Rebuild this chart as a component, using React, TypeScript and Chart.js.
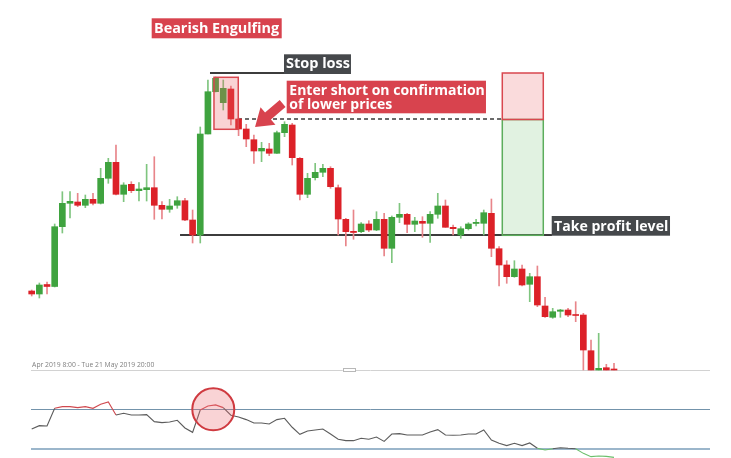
import React, { useEffect, useRef } from 'react';
import { Chart, registerables } from 'chart.js';

Chart.register(...registerables);

// ---- price candles (arbitrary price units) ----
const opens = [
  109, 106, 115.5, 113.5, 173.3, 196.7, 198, 194.7, 200.7, 196.7,
  221.7, 237.7, 205.7, 215.7, 209.3, 210.3, 212.3, 194.7, 190.7, 194.7,
  199.3, 180, 165, 266, 308.3, 297.3, 311, 281, 271, 260.3,
  249, 251, 246.7, 267.3, 275, 241.7, 205.7, 222.3, 227.7, 231.7,
  212.3, 180.7, 168.7, 168.3, 176, 170, 180.7, 151.7, 182.7, 185.7,
  175.7, 178.7, 176.7, 185.7, 194, 172.7, 165, 171.3, 176.5, 176.7,
  186.7, 151.3, 135, 123.3, 131, 115.7, 123.3, 94, 82.7, 88.7,
  90, 85.5, 85, 49.3, 30, 32.3, 31,
];
const highs = [
  110, 117, 118, 176, 208.3, 208.3, 206.7, 205, 206.7, 231.7,
  241.7, 255, 217.3, 218.3, 217.3, 235.7, 243.3, 198.3, 200.7, 203.3,
  201.7, 190, 273, 320, 323, 320, 314, 282, 275.7, 265,
  257.7, 256.7, 269, 278.3, 276.7, 242.3, 226.7, 236.7, 235.7, 233.3,
  215, 181.7, 190, 177.3, 179.3, 188.3, 186.7, 184, 196.7, 186.7,
  182.7, 183.3, 188.3, 206.7, 200, 175, 173.3, 177.3, 180.7, 190,
  201, 153.3, 139.3, 139.3, 135, 126.7, 134, 102.7, 91.7, 90.7,
  91.7, 98.3, 86.7, 60, 66.7, 35.7, 36.7,
];
const lows = [
  104, 102, 106, 113, 167, 182, 193.3, 192.3, 195, 196,
  216.7, 205, 198.3, 207.3, 199, 199, 180.7, 181, 187.7, 191.7,
  179.3, 157, 157, 266, 308, 290, 275, 264.3, 253.3, 236.7,
  238.3, 244.3, 246.7, 263.3, 235, 200, 202.3, 220, 223.3, 211.7,
  165, 154, 160.7, 167.3, 168.3, 169.3, 144, 137.3, 177.3, 167.3,
  168.3, 162.7, 157.7, 181.7, 172.7, 165, 161.7, 170, 174, 165,
  143.3, 114, 116.7, 122.7, 114, 98.3, 93.3, 82.7, 81.7, 82.7,
  83.3, 78.3, 30, 30, 30, 30, 30,
];
const closes = [
  106, 115, 113.5, 173.3, 196.7, 198.7, 194.7, 200.7, 196.7, 221.7,
  237.7, 205.7, 215, 209.3, 211, 212.3, 194.7, 190.7, 194, 199.3,
  180, 165, 266, 308.3, 321.7, 311.7, 281, 271, 261, 249,
  251.7, 246.7, 267.3, 275.7, 242.3, 205.7, 221.7, 227.7, 231.7, 213.3,
  181, 168.3, 167.5, 176, 170, 180.7, 151.7, 182.7, 185.7, 175.7,
  179, 176.7, 185.7, 194, 172.7, 171.3, 171.3, 176, 177.7, 187.3,
  151.7, 135, 123.3, 131, 115, 123.3, 95, 83.3, 88.3, 90,
  85, 84.5, 50, 30, 31.7, 30, 30,
];

// ---- RSI oscillator (one value per candle) ----
const rsiValues = [
  50.2, 53.5, 53.2, 71.0, 72.7, 72.7, 71.7, 72.7, 71.0, 75.0,
  77.4, 64.3, 66.0, 64.3, 64.3, 64.6, 57.6, 56.6, 57.2, 58.9,
  51.2, 46.8, 69.3, 73.4, 74.4, 71.7, 64.0, 62.3, 59.6, 56.2,
  56.2, 55.2, 59.6, 60.9, 51.9, 44.8, 48.2, 49.2, 50.2, 45.1,
  39.8, 38.4, 38.4, 40.8, 39.8, 42.1, 37.7, 45.1, 45.5, 44.1,
  44.1, 44.1, 47.1, 49.5, 44.1, 43.8, 44.1, 45.1, 45.1, 49.2,
  39.1, 35.7, 33.4, 35.7, 33.4, 36.1, 30.7, 29.0, 30.3, 31.3,
  30.7, 30.3, 25.6, 22.3, 22.9, 22.6, 21.6,
];
const rsiUpper = 70;
const rsiLower = 30;

// ---- trade levels and texts ----
const stopLevel = 327;
const entryLevel = 280.5;
const targetLevel = 164.7;
const dateRangeLabel = 'Apr 2019 8:00 - Tue 21 May 2019 20:00';
const engulfingText = 'Bearish Engulfing';
const stopText = 'Stop loss';
const entryTexts = ['Enter short on confirmation', 'of lower prices'];
const targetText = 'Take profit level';

const GREEN = '#3fa33f';
const RED = '#dc2128';
const GREEN_WICK = '#7fc57f';
const RED_WICK = '#e8858a';
const LABEL_RED = '#d8434e';
const LABEL_DARK = '#45484b';
const FONT = '"Open Sans", "DejaVu Sans", sans-serif';

const idx = opens.map((_, i) => i);

function hline(ctx: CanvasRenderingContext2D, x0: number, x1: number, y: number, color: string, w: number, dash: number[] = []) {
  ctx.save();
  ctx.strokeStyle = color;
  ctx.lineWidth = w;
  ctx.setLineDash(dash);
  const yy = w % 2 === 1 ? Math.round(y) + 0.5 : Math.round(y);
  ctx.beginPath();
  ctx.moveTo(x0, yy);
  ctx.lineTo(x1, yy);
  ctx.stroke();
  ctx.restore();
}

function fitSize(ctx: CanvasRenderingContext2D, text: string, width: number) {
  ctx.font = `700 20px ${FONT}`;
  const w = ctx.measureText(text).width;
  return (20 * width) / w;
}

const annotations = {
  id: 'annotations',
  beforeDatasetsDraw(chart: any) {
    const { ctx, scales } = chart;
    const X = (v: number) => scales.x.getPixelForValue(v);
    const Y = (v: number) => scales.y.getPixelForValue(v);
    const R = (v: number) => scales.y2.getPixelForValue(v);
    ctx.save();
    // main panel bottom axis
    hline(ctx, X(-0.09), X(88.53), Y(30), '#d2d2d2', 1);
    ctx.fillStyle = '#808080';
    ctx.font = `6.8px ${FONT}`;
    ctx.textBaseline = 'alphabetic';
    ctx.fillText(dateRangeLabel, X(0.05), Y(33));
    // small scroll handle
    ctx.fillStyle = '#ffffff';
    ctx.strokeStyle = '#b8b8b8';
    ctx.lineWidth = 1;
    ctx.fillRect(X(40.6), Y(32), X(42.2) - X(40.6), Y(28) - Y(32));
    ctx.strokeRect(Math.round(X(40.6)) + 0.5, Math.round(Y(32)) + 0.5, Math.round(X(42.2) - X(40.6)), 3);
    // RSI bands
    hline(ctx, X(-0.09), X(88.53), R(rsiUpper), '#7393ab', 1);
    hline(ctx, X(-0.09), X(88.53), R(rsiLower), '#9bb6cb', 2);
    // trade levels
    hline(ctx, X(23.27), X(32.93), Y(stopLevel), '#3c3c3c', 2);
    hline(ctx, X(19.36), X(67.9), Y(targetLevel), '#3c3c3c', 2);
    hline(ctx, X(26.93), X(61.42), Y(entryLevel), '#3a3a3a', 1.5, [4, 3]);
    ctx.restore();
  },
  afterDatasetsDraw(chart: any) {
    const { ctx, scales } = chart;
    const X = (v: number) => scales.x.getPixelForValue(v);
    const Y = (v: number) => scales.y.getPixelForValue(v);
    const R = (v: number) => scales.y2.getPixelForValue(v);
    ctx.save();

    // engulfing box
    const rectBox = (i0: number, i1: number, p0: number, p1: number, fill: string, stroke: string) => {
      const x0 = X(i0), x1 = X(i1), y0 = Y(p0), y1 = Y(p1);
      ctx.fillStyle = fill;
      ctx.fillRect(x0, y0, x1 - x0, y1 - y0);
      ctx.strokeStyle = stroke;
      ctx.lineWidth = 1.5;
      ctx.strokeRect(x0, y0, x1 - x0, y1 - y0);
    };
    rectBox(23.79, 26.96, 322.7, 270.7, 'rgba(232,96,100,0.28)', '#d9474f');
    // risk / reward boxes
    rectBox(61.42, 66.77, entryLevel, targetLevel, 'rgba(120,195,120,0.22)', '#5cad5c');
    rectBox(61.42, 66.77, stopLevel, entryLevel, 'rgba(235,110,115,0.25)', '#d9474f');

    // arrow
    const tx = X(29.15), ty = Y(273), sx = X(32.75), sy = Y(296.5);
    const dx = sx - tx, dy = sy - ty;
    const len = Math.hypot(dx, dy);
    const ux = dx / len, uy = dy / len;
    const nx = -uy, ny = ux;
    const head = 17, hw = 11.5, sw = 4.5;
    const bx = tx + ux * head, by = ty + uy * head;
    ctx.fillStyle = LABEL_RED;
    ctx.beginPath();
    ctx.moveTo(tx, ty);
    ctx.lineTo(bx + nx * hw, by + ny * hw);
    ctx.lineTo(bx + nx * sw, by + ny * sw);
    ctx.lineTo(sx + nx * sw, sy + ny * sw);
    ctx.lineTo(sx - nx * sw, sy - ny * sw);
    ctx.lineTo(bx - nx * sw, by - ny * sw);
    ctx.lineTo(bx - nx * hw, by - ny * hw);
    ctx.closePath();
    ctx.fill();

    // labels
    const labelBox = (i0: number, i1: number, p0: number, p1: number, bg: string) => {
      ctx.fillStyle = bg;
      ctx.fillRect(X(i0), Y(p0), X(i1) - X(i0), Y(p1) - Y(p0));
    };
    const labelText = (texts: string[], i0: number, i1: number, baselines: number[]) => {
      const size = fitSize(ctx, texts[0], X(i1) - X(i0));
      ctx.font = `700 ${size}px ${FONT}`;
      ctx.fillStyle = '#ffffff';
      ctx.textBaseline = 'alphabetic';
      texts.forEach((t, k) => ctx.fillText(t, X(i0), Y(baselines[k])));
    };
    labelBox(15.66, 32.63, 381.7, 361.7, LABEL_RED);
    labelText([engulfingText], 15.96, 32.32, [366.7]);
    labelBox(32.93, 41.67, 345.7, 326, LABEL_DARK);
    labelText([stopText], 33.19, 41.55, [331.7]);
    labelBox(33.28, 59.29, 319.3, 286.7, LABEL_RED);
    labelText(entryTexts, 33.62, 59.16, [305, 290.7]);
    labelBox(67.87, 83.31, 184, 164.3, LABEL_DARK);
    labelText([targetText], 68.17, 83.09, [169]);

    // RSI circle
    ctx.beginPath();
    ctx.arc(X(23.7), R(rsiUpper), 21, 0, Math.PI * 2);
    ctx.fillStyle = 'rgba(235,110,115,0.3)';
    ctx.fill();
    ctx.strokeStyle = '#cf3a40';
    ctx.lineWidth = 2;
    ctx.stroke();

    ctx.restore();
  },
};

export default function App() {
  const ref = useRef<HTMLCanvasElement>(null);
  useEffect(() => {
    if (!ref.current) return;
    const up = idx.map((i) => closes[i] >= opens[i]);
    const chart = new Chart(ref.current, {
      type: 'bar',
      data: {
        datasets: [
          {
            type: 'bar',
            label: 'wicks',
            data: idx.map((i) => ({ x: i, y: [lows[i], highs[i]] })) as any,
            backgroundColor: up.map((u) => (u ? GREEN_WICK : RED_WICK)),
            barThickness: 1,
            grouped: false,
            borderWidth: 0,
            yAxisID: 'y',
            order: 2,
          } as any,
          {
            type: 'bar',
            label: 'bodies',
            data: idx.map((i) => ({ x: i, y: [opens[i], closes[i]] })) as any,
            backgroundColor: up.map((u) => (u ? GREEN : RED)),
            barThickness: 6,
            grouped: false,
            borderWidth: 0,
            yAxisID: 'y',
            order: 1,
          } as any,
          {
            type: 'line',
            label: 'RSI',
            data: idx.map((i) => ({ x: i, y: rsiValues[i] })) as any,
            borderColor: '#5c5c5c',
            borderWidth: 1.1,
            pointRadius: 0,
            tension: 0,
            yAxisID: 'y2',
            order: 0,
            segment: {
              borderColor: (c: any) => {
                const a = (c.p0.parsed.y + c.p1.parsed.y) / 2;
                if (a > rsiUpper) return '#d0494f';
                if (a < rsiLower) return '#6cbf6c';
                return '#5c5c5c';
              },
            },
          } as any,
        ],
      },
      options: {
        animation: false,
        responsive: false,
        maintainAspectRatio: false,
        layout: { padding: 0 },
        plugins: { legend: { display: false }, tooltip: { enabled: false } },
        scales: {
          x: { type: 'linear', min: -4.1374, max: 91.27, offset: false, display: false },
          y: { type: 'linear', min: -58, max: 400, display: false },
          y2: { type: 'linear', min: 20.93, max: 482.4, display: false },
        },
      } as any,
      plugins: [annotations],
    });
    return () => chart.destroy();
  }, []);
  return (
    <div style={{ position: 'fixed', left: 0, top: 0, width: 731, height: 458, background: '#ffffff' }}>
      <canvas ref={ref} width={731} height={458} style={{ width: 731, height: 458, display: 'block' }} />
    </div>
  );
}
